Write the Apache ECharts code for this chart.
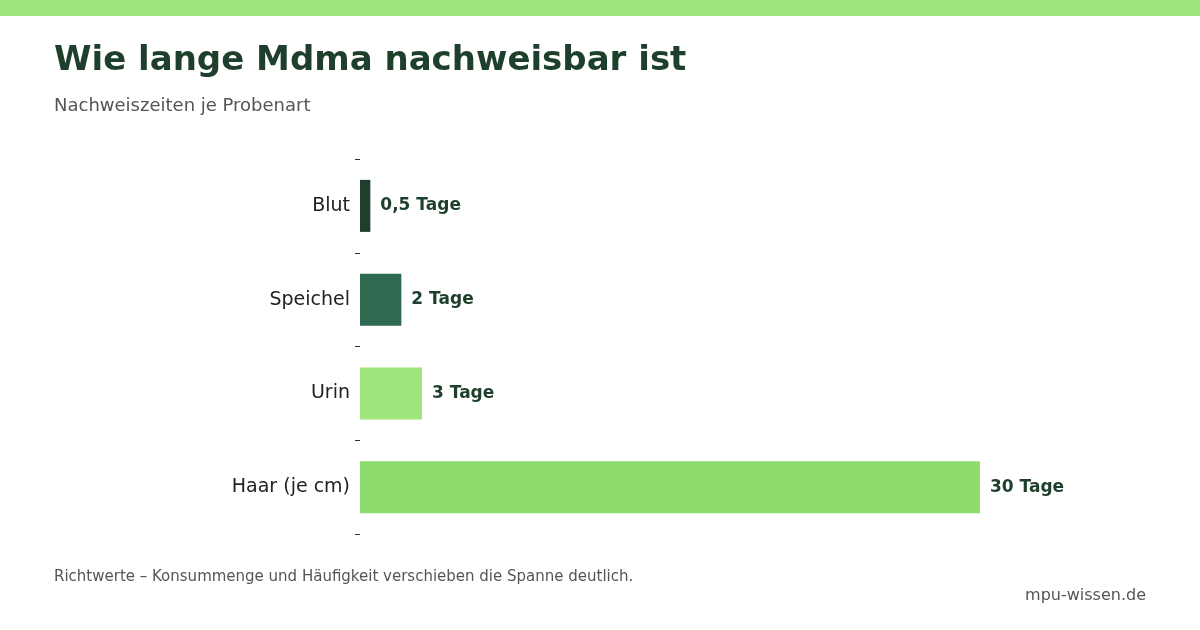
<!DOCTYPE html>
<html><head><meta charset="utf-8">
<script src="https://cdn.jsdelivr.net/npm/echarts@6/dist/echarts.min.js"></script>
<style>html,body{margin:0;padding:0;background:#fff}#c{width:1200px;height:630px}</style>
</head><body><div id="c"></div>
<script>
const categories = ['Blut','Speichel','Urin','Haar (je cm)'];
const values = [0.5, 2, 3, 30];
const labels = ['0,5 Tage','2 Tage','3 Tage','30 Tage'];
const colors = ['#1e3f2b','#2d6a4f','#a0e67c','#8edc6e'];
const chart = echarts.init(document.getElementById('c'));
chart.setOption({
  animation:false,
  graphic:[
    {type:'rect',shape:{x:0,y:0,width:1200,height:16},style:{fill:'#a0e67c'}},
    {type:'text',left:54,top:44,style:{text:'Wie lange Mdma nachweisbar ist',font:'bold 34px "DejaVu Sans"',fill:'#1e3f2b'}},
    {type:'text',left:54,top:97,style:{text:'Nachweiszeiten je Probenart',font:'18px "DejaVu Sans"',fill:'#555'}},
    {type:'text',left:54,top:570,style:{text:'Richtwerte – Konsummenge und Häufigkeit verschieben die Spanne deutlich.',font:'15px "DejaVu Sans"',fill:'#555'}},
    {type:'text',right:54,top:588,style:{text:'mpu-wissen.de',font:'16px "DejaVu Sans"',fill:'#555'}}
  ],
  grid:{left:360,right:220,top:159,bottom:96},
  xAxis:{type:'value',min:0,max:30,show:false},
  yAxis:{type:'category',inverse:true,data:categories,
    axisLine:{show:false},axisTick:{show:true,length:5,lineStyle:{color:'#333'}},
    axisLabel:{fontSize:19,color:'#222',fontFamily:'DejaVu Sans',margin:10}},
  series:[{type:'bar',barWidth:52,
    data:values.map((v,i)=>({value:v,itemStyle:{color:colors[i]},label:{formatter:labels[i]}})),
    label:{show:true,position:'right',distance:10,fontSize:17,fontWeight:'bold',color:'#1e3f2b',fontFamily:'DejaVu Sans'}}]
});
</script></body></html>
